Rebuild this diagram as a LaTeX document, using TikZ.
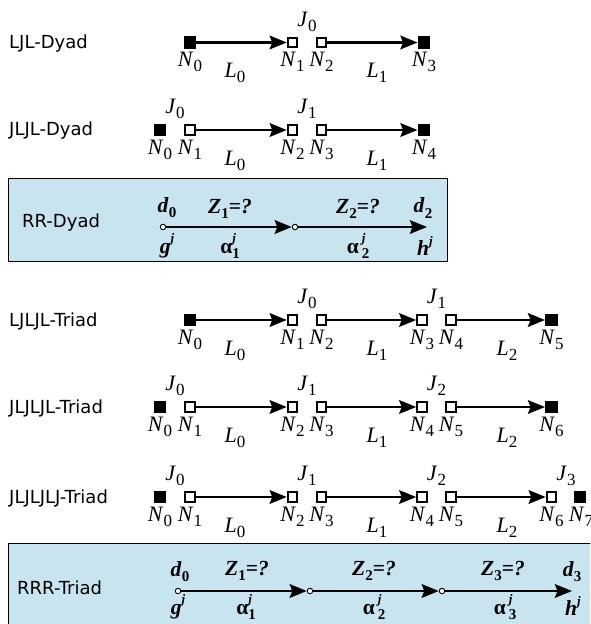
\documentclass[tikz,border=0pt]{standalone}
\usepackage{fontspec}
\setmainfont{Liberation Serif}
\newfontfamily\rowfont{DejaVu Sans}
\usetikzlibrary{arrows.meta}
\definecolor{boxblue}{RGB}{200,228,238}

% italic letter with an upright subscript
\newcommand\Sub[1]{\raisebox{-0.25em}{\fontsize{17}{17}\selectfont #1}}
\newcommand\ml[2]{\textit{#1}\Sub{#2}}
% bold italic letter with a bold subscript
\newcommand\BSub[1]{\raisebox{-0.24em}{\fontsize{15}{15}\selectfont\bfseries #1}}
\newcommand\bl[2]{\textbf{\textit{#1}}\BSub{#2}}
\newcommand\Sup[1]{\raisebox{0.5em}{\fontsize{13}{13}\selectfont\bfseries\itshape #1}}
\newcommand\zq[1]{\bl{Z}{#1}\textbf{=\textit{?}}}
\newcommand\alj[2]{\textbf{α}\kern#2\rlap{\Sup{j}}\BSub{#1}}

\begin{document}
\begin{tikzpicture}[x=1pt,y=-1pt,
  fsq/.style={rectangle, fill=black, minimum size=12.5pt, inner sep=0pt},
  osq/.style={rectangle, draw=black, line width=2pt, fill=white, minimum size=9.5pt, inner sep=0pt},
  pin/.style={circle, draw=black, line width=0.9pt, fill=white, minimum size=5.5pt, inner sep=0pt},
  arr/.style={line width=2.8pt, -{Stealth[length=17pt,width=13.5pt,inset=2.5pt]}},
  mlab/.style={inner sep=0pt, font=\fontsize{22}{24}\selectfont},
  blab/.style={inner sep=0pt, font=\fontsize{21.5}{24}\selectfont},
  rowlab/.style={inner sep=0pt, anchor=west, font=\rowfont\fontsize{18}{20}\selectfont},
  rbox/.style={draw=black, line width=1pt, fill=boxblue}]
\useasboundingbox (0,0) rectangle (590,624);
\clip (0,0) rectangle (590,624);

% ---------- LJL-Dyad ----------
\node[rowlab] (t1) at (9,43.5) {LJL-Dyad};
\node[fsq] (a0) at (190,42.5) {};
\node[osq] (a1) at (292.5,42.5) {};
\node[osq] (a2) at (321.5,42.5) {};
\node[fsq] (a3) at (424,42.5) {};
\draw[arr] (a0) -- (a1);
\draw[arr] (a2) -- (a3);
\node[mlab] (a0n) at (190,62) {\ml{N}{0}};
\node[mlab] (a1n) at (292.5,62) {\ml{N}{1}};
\node[mlab] (a2n) at (321.5,62) {\ml{N}{2}};
\node[mlab] (a3n) at (424,62) {\ml{N}{3}};
\node[mlab] (aj0) at (307,22) {\ml{J}{0}};
\node[mlab] (al0) at (235,73) {\ml{L}{0}};
\node[mlab] (al1) at (377,73) {\ml{L}{1}};

% ---------- JLJL-Dyad ----------
\node[rowlab] (t2) at (9,131) {JLJL-Dyad};
\node[fsq] (b0) at (160,130) {};
\node[osq] (b1) at (190,130) {};
\node[osq] (b2) at (292.5,130) {};
\node[osq] (b3) at (321.5,130) {};
\node[fsq] (b4) at (424,130) {};
\draw[arr] (b1) -- (b2);
\draw[arr] (b3) -- (b4);
\node[mlab] (b0n) at (160,150) {\ml{N}{0}};
\node[mlab] (b1n) at (190,150) {\ml{N}{1}};
\node[mlab] (b2n) at (292.5,150) {\ml{N}{2}};
\node[mlab] (b3n) at (321.5,150) {\ml{N}{3}};
\node[mlab] (b4n) at (424,150) {\ml{N}{4}};
\node[mlab] (bj0) at (175,109) {\ml{J}{0}};
\node[mlab] (bj1) at (307,109) {\ml{J}{1}};
\node[mlab] (bl0) at (235,161) {\ml{L}{0}};
\node[mlab] (bl1) at (377,161) {\ml{L}{1}};

% ---------- RR-Dyad ----------
\draw[rbox] (8.3,178.3) rectangle (447,261.7);
\node[rowlab] (t3) at (22,223) {RR-Dyad};
\node[pin] (p0) at (163,227) {};
\node[pin] (p1) at (295,227) {};
\coordinate (pe) at (427,227);
\draw[arr] (p0) -- (p1);
\draw[arr] (p1) -- (pe);
\node[blab] (pd0) at (167,208) {\bl{d}{0}};
\node[blab] (pz1) at (230,209) {\zq{1}};
\node[blab] (pz2) at (358,209) {\zq{2}};
\node[blab] (pd2) at (423,208) {\bl{d}{2}};
\node[blab] (pg) at (167,246) {\textbf{\textit{g}}\Sup{j}};
\node[blab] (pa1) at (230,246) {\alj{1}{0pt}};
\node[blab] (pa2) at (358,246) {\alj{2}{3pt}};
\node[blab] (ph) at (425,246) {\textbf{\textit{h}}\Sup{j}};

% ---------- LJLJL-Triad ----------
\node[rowlab] (t4) at (9,321) {LJLJL-Triad};
\node[fsq] (c0) at (190,320) {};
\node[osq] (c1) at (292.5,320) {};
\node[osq] (c2) at (321.5,320) {};
\node[osq] (c3) at (422,320) {};
\node[osq] (c4) at (451,320) {};
\node[fsq] (c5) at (551.5,320) {};
\draw[arr] (c0) -- (c1);
\draw[arr] (c2) -- (c3);
\draw[arr] (c4) -- (c5);
\node[mlab] (c0n) at (190,340) {\ml{N}{0}};
\node[mlab] (c1n) at (292.5,340) {\ml{N}{1}};
\node[mlab] (c2n) at (321.5,340) {\ml{N}{2}};
\node[mlab] (c3n) at (422,340) {\ml{N}{3}};
\node[mlab] (c4n) at (451,340) {\ml{N}{4}};
\node[mlab] (c5n) at (551.5,340) {\ml{N}{5}};
\node[mlab] (cj0) at (307,299) {\ml{J}{0}};
\node[mlab] (cj1) at (436.5,299) {\ml{J}{1}};
\node[mlab] (cl0) at (235,351) {\ml{L}{0}};
\node[mlab] (cl1) at (377,351) {\ml{L}{1}};
\node[mlab] (cl2) at (507,351) {\ml{L}{2}};

% ---------- JLJLJL-Triad ----------
\node[rowlab] (t5) at (9,408) {JLJLJL-Triad};
\node[fsq] (e0) at (160,407) {};
\node[osq] (e1) at (190,407) {};
\node[osq] (e2) at (292.5,407) {};
\node[osq] (e3) at (321.5,407) {};
\node[osq] (e4) at (422,407) {};
\node[osq] (e5) at (451,407) {};
\node[fsq] (e6) at (551.5,407) {};
\draw[arr] (e1) -- (e2);
\draw[arr] (e3) -- (e4);
\draw[arr] (e5) -- (e6);
\node[mlab] (e0n) at (160,427) {\ml{N}{0}};
\node[mlab] (e1n) at (190,427) {\ml{N}{1}};
\node[mlab] (e2n) at (292.5,427) {\ml{N}{2}};
\node[mlab] (e3n) at (321.5,427) {\ml{N}{3}};
\node[mlab] (e4n) at (422,427) {\ml{N}{4}};
\node[mlab] (e5n) at (451,427) {\ml{N}{5}};
\node[mlab] (e6n) at (551.5,427) {\ml{N}{6}};
\node[mlab] (ej0) at (175,386) {\ml{J}{0}};
\node[mlab] (ej1) at (307,386) {\ml{J}{1}};
\node[mlab] (ej2) at (436.5,386) {\ml{J}{2}};
\node[mlab] (el0) at (235,438) {\ml{L}{0}};
\node[mlab] (el1) at (377,438) {\ml{L}{1}};
\node[mlab] (el2) at (507,438) {\ml{L}{2}};

% ---------- JLJLJLJ-Triad ----------
\node[rowlab] (t6) at (9,498) {JLJLJLJ-Triad};
\node[fsq] (f0) at (160,497) {};
\node[osq] (f1) at (190,497) {};
\node[osq] (f2) at (292.5,497) {};
\node[osq] (f3) at (321.5,497) {};
\node[osq] (f4) at (422,497) {};
\node[osq] (f5) at (451,497) {};
\node[osq] (f6) at (551.5,497) {};
\node[fsq] (f7) at (580,497) {};
\draw[arr] (f1) -- (f2);
\draw[arr] (f3) -- (f4);
\draw[arr] (f5) -- (f6);
\node[mlab] (f0n) at (160,517) {\ml{N}{0}};
\node[mlab] (f1n) at (190,517) {\ml{N}{1}};
\node[mlab] (f2n) at (292.5,517) {\ml{N}{2}};
\node[mlab] (f3n) at (321.5,517) {\ml{N}{3}};
\node[mlab] (f4n) at (422,517) {\ml{N}{4}};
\node[mlab] (f5n) at (451,517) {\ml{N}{5}};
\node[mlab] (f6n) at (551.5,517) {\ml{N}{6}};
\node[mlab] (f7n) at (581,517) {\ml{N}{7}};
\node[mlab] (fj0) at (175,476) {\ml{J}{0}};
\node[mlab] (fj1) at (307,476) {\ml{J}{1}};
\node[mlab] (fj2) at (436.5,476) {\ml{J}{2}};
\node[mlab] (fj3) at (566,476) {\ml{J}{3}};
\node[mlab] (fl0) at (235,528) {\ml{L}{0}};
\node[mlab] (fl1) at (377,528) {\ml{L}{1}};
\node[mlab] (fl2) at (507,528) {\ml{L}{2}};

% ---------- RRR-Triad ----------
\draw[rbox] (8.3,543) rectangle (600,627);
\node[rowlab] (t7) at (17,588) {RRR-Triad};
\node[pin] (q0) at (178,591) {};
\node[pin] (q1) at (310,591) {};
\node[pin] (q2) at (442,591) {};
\coordinate (qe) at (572,591);
\draw[arr] (q0) -- (q1);
\draw[arr] (q1) -- (q2);
\draw[arr] (q2) -- (qe);
\node[blab] (qd0) at (180,572) {\bl{d}{0}};
\node[blab] (qz1) at (247,571) {\zq{1}};
\node[blab] (qz2) at (374,571) {\zq{2}};
\node[blab] (qz3) at (503,571) {\zq{3}};
\node[blab] (qd3) at (572,572) {\bl{d}{3}};
\node[blab] (qg) at (178,607) {\textbf{\textit{g}}\Sup{j}};
\node[blab] (qa1) at (246,607) {\alj{1}{0pt}};
\node[blab] (qa2) at (374,607) {\alj{2}{3pt}};
\node[blab] (qa3) at (505,607) {\alj{3}{3pt}};
\node[blab] (qh) at (573,606) {\textbf{\textit{h}}\Sup{j}};
\end{tikzpicture}
\end{document}
